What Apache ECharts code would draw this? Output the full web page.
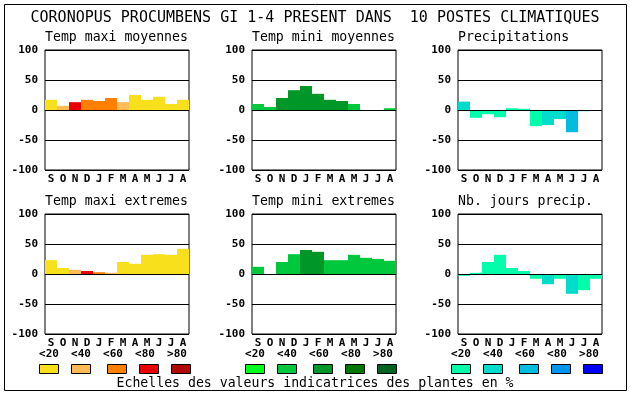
<!DOCTYPE html>
<html><head><meta charset="utf-8">
<script src="https://cdn.jsdelivr.net/npm/echarts@6/dist/echarts.min.js"></script>
<style>html,body{margin:0;padding:0;background:#fff}#c{width:630px;height:394px}</style>
</head><body><div id="c"></div>
<script>
const months = ['S','O','N','D','J','F','M','A','M','J','J','A'];
const yTicks = [-100, -50, 0, 50, 100];
const classLabels = ['<20','<40','<60','<80','>80'];
const paletteTemp = ['#f8e11c','#ffbb55','#ff7f00','#e80000','#b00a00'];
const paletteMini = ['#00ff1a','#00c83c','#009628','#007800','#006420'];
const palettePrec = ['#00ffaa','#00dccc','#00bde0','#0096f0','#0000ff'];

const titleText = 'CORONOPUS PROCUMBENS GI 1-4 PRESENT DANS  10 POSTES CLIMATIQUES';
const footText = 'Echelles des valeurs indicatrices des plantes en %';
const panelTitles = ['Temp maxi moyennes','Temp mini moyennes','Precipitations',
                     'Temp maxi extremes','Temp mini extremes','Nb. jours precip.'];

const tmaxMoyVals = [17,7,13,17,15,20,13,25,17,22,10,17];
const tmaxMoyCls  = [0,1,3,2,2,2,1,0,0,0,0,0];
const tminMoyVals = [10,5,20,33,40,27,17,15,10,0,0,3];
const tminMoyCls  = [1,1,2,2,2,2,2,2,1,1,1,1];
const precVals    = [14,-13,-7,-12,3,2,-27,-25,-15,-37,-2,0];
const precCls     = [1,0,0,0,0,0,0,1,1,2,2,0];
const tmaxExtVals = [23,10,7,5,3,2,20,17,32,33,32,42];
const tmaxExtCls  = [0,0,1,3,2,1,0,0,0,0,0,0];
const tminExtVals = [12,0,20,33,40,37,23,23,32,27,25,22];
const tminExtCls  = [1,1,1,1,2,2,1,1,1,1,1,1];
const joursVals   = [-3,2,20,32,10,5,-8,-17,-8,-33,-27,-8];
const joursCls    = [0,0,0,0,0,0,0,1,0,1,0,0];

const panels = [
  {vals: tmaxMoyVals, cls: tmaxMoyCls, pal: paletteTemp},
  {vals: tminMoyVals, cls: tminMoyCls, pal: paletteMini},
  {vals: precVals, cls: precCls, pal: palettePrec},
  {vals: tmaxExtVals, cls: tmaxExtCls, pal: paletteTemp},
  {vals: tminExtVals, cls: tminExtCls, pal: paletteMini},
  {vals: joursVals, cls: joursCls, pal: palettePrec}
];

const lefts = [45, 252, 458];
const tops = [50, 214];
const PW = 144, PH = 120;
const mono = '"DejaVu Sans Mono", "Liberation Mono", monospace';

const grid = [], xAxis = [], yAxis = [], series = [], title = [];
panels.forEach((p, i) => {
  const col = i % 3, row = Math.floor(i / 3);
  grid.push({left: lefts[col], top: tops[row], width: PW, height: PH,
             show: true, borderColor: '#000', borderWidth: 1, backgroundColor: 'transparent'});
  xAxis.push({type: 'category', gridIndex: i, data: months,
    axisLine: {show: false}, axisTick: {show: false},
    axisLabel: {color: '#000', fontFamily: mono, fontWeight: 'bold', fontSize: 11, margin: 4, interval: 0}});
  yAxis.push({type: 'value', gridIndex: i, min: yTicks[0], max: yTicks[yTicks.length-1], interval: 50, z: 5,
    axisLine: {show: false}, axisTick: {show: false},
    splitLine: {show: true, lineStyle: {color: '#000', width: 1}},
    axisLabel: {color: '#000', fontFamily: mono, fontWeight: 'bold', fontSize: 11, margin: 7}});
  series.push({type: 'bar', xAxisIndex: i, yAxisIndex: i, barCategoryGap: '0%', z: 2,
    data: p.vals.map((v, k) => ({value: v, itemStyle: {color: p.pal[p.cls[k]]}}))});
  title.push({text: panelTitles[i], left: lefts[col], top: tops[row] - 19,
    textStyle: {fontFamily: mono, fontWeight: 'normal', fontSize: 13.2, color: '#000'}, padding: 0});
});
title.push({text: titleText, left: 'center', top: 11,
  textStyle: {fontFamily: mono, fontWeight: 'normal', fontSize: 15, color: '#000'}, padding: 0});

const graphic = [{type: 'rect', shape: {x: 4.5, y: 4.5, width: 622, height: 386},
  style: {fill: 'none', stroke: '#000', lineWidth: 1}, silent: true}];
const legBase = [39, 245, 451];
const swOff = [0, 32, 68, 100, 132];
const lblOff = [10, 42, 74, 106, 138];
const legPals = [paletteTemp, paletteMini, palettePrec];
legBase.forEach((b, c) => {
  classLabels.forEach((lab, k) => {
    graphic.push({type: 'rect', shape: {x: b + swOff[k] + 0.5, y: 364.5, width: 19, height: 9},
      style: {fill: legPals[c][k], stroke: '#000', lineWidth: 1}, silent: true});
    graphic.push({type: 'text', x: b + lblOff[k], y: 354,
      style: {text: lab, fill: '#000', font: 'bold 11px ' + mono, textAlign: 'center', textVerticalAlign: 'middle'}, silent: true});
  });
});
graphic.push({type: 'text', x: 315, y: 384,
  style: {text: footText, fill: '#000', font: '13.2px ' + mono, textAlign: 'center', textVerticalAlign: 'middle'}, silent: true});

const chart = echarts.init(document.getElementById('c'), null, {renderer: 'canvas'});
chart.setOption({animation: false, backgroundColor: '#fff', title, grid, xAxis, yAxis, series, graphic});
</script></body></html>
